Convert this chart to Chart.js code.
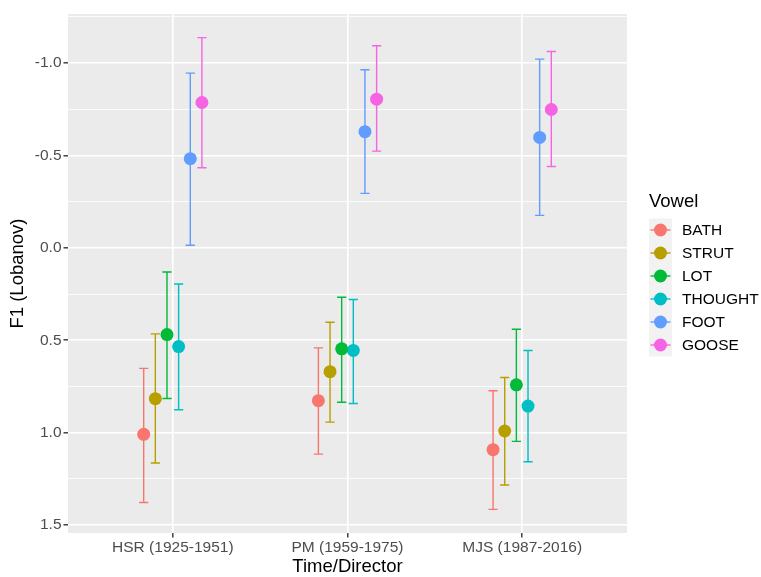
<!DOCTYPE html>
<html>
<head>
<meta charset="utf-8">
<script src="https://cdn.jsdelivr.net/npm/chart.js@4.4.1/dist/chart.umd.min.js"></script>
<style>
  html, body { margin: 0; padding: 0; background: #fff; }
  #wrap { width: 761px; height: 577px; }
</style>
</head>
<body>
<div id="wrap"><canvas id="f1Chart" width="761" height="577"></canvas></div>
<script>
const periods = ['HSR (1925-1951)', 'PM (1959-1975)', 'MJS (1987-2016)'];
const vowels = ['BATH', 'STRUT', 'LOT', 'THOUGHT', 'FOOT', 'GOOSE'];
const vowelColors = ['#F8766D', '#B79F00', '#00BA38', '#00BFC4', '#619CFF', '#F564E3'];

// mean normalised F1 per period, plus the two ends of each error bar
const bathMean = [1.009, 0.827, 1.092];
const bathLow = [0.652, 0.541, 0.773];
const bathHigh = [1.378, 1.116, 1.415];

const strutMean = [0.816, 0.670, 0.991];
const strutLow = [0.465, 0.402, 0.701];
const strutHigh = [1.164, 0.943, 1.283];

const lotMean = [0.469, 0.546, 0.741];
const lotLow = [0.130, 0.267, 0.440];
const lotHigh = [0.815, 0.835, 1.047];

const thoughtMean = [0.534, 0.555, 0.856];
const thoughtLow = [0.195, 0.279, 0.555];
const thoughtHigh = [0.876, 0.842, 1.157];

const footMean = [-0.483, -0.629, -0.598];
const footLow = [-0.946, -0.964, -1.022];
const footHigh = [-0.014, -0.295, -0.176];

const gooseMean = [-0.787, -0.805, -0.749];
const gooseLow = [-1.138, -1.094, -1.063];
const gooseHigh = [-0.434, -0.524, -0.441];

const yMajorTicks = [-1.0, -0.5, 0.0, 0.5, 1.0, 1.5];
const yMinorTicks = [-1.25, -0.75, -0.25, 0.25, 0.75, 1.25];

const means = [bathMean, strutMean, lotMean, thoughtMean, footMean, gooseMean];
const lows = [bathLow, strutLow, lotLow, thoughtLow, footLow, gooseLow];
const highs = [bathHigh, strutHigh, lotHigh, thoughtHigh, footHigh, gooseHigh];

const dodge = 0.4;
const fontFamily = "'Liberation Sans', Arial, Helvetica, sans-serif";
Chart.defaults.font.family = fontFamily;

const datasets = vowels.map((v, j) => ({
  label: v,
  data: means[j].map((m, i) => ({ x: i + 1 + (j - 2.5) * dodge / vowels.length, y: m })),
  low: lows[j],
  high: highs[j],
  backgroundColor: vowelColors[j],
  borderWidth: 0,
  pointRadius: 6.5,
  pointHoverRadius: 6.5
}));

// grey panel behind the grid
const panel = {
  id: 'panel',
  beforeDraw(chart) {
    const { ctx, chartArea: a } = chart;
    ctx.save();
    ctx.fillStyle = '#EBEBEB';
    ctx.fillRect(a.left, a.top, a.right - a.left, a.bottom - a.top);
    ctx.restore();
  }
};

// vertical error bars with caps, drawn under the points
const errorBars = {
  id: 'errorBars',
  beforeDatasetsDraw(chart) {
    const { ctx, scales: { x, y } } = chart;
    const cap = 4.6;
    ctx.save();
    ctx.lineWidth = 1.4;
    chart.data.datasets.forEach(ds => {
      ctx.strokeStyle = ds.backgroundColor;
      ds.data.forEach((p, i) => {
        const px = x.getPixelForValue(p.x);
        const y1 = y.getPixelForValue(ds.low[i]);
        const y2 = y.getPixelForValue(ds.high[i]);
        ctx.beginPath();
        ctx.moveTo(px, y1); ctx.lineTo(px, y2);
        ctx.moveTo(px - cap, y1); ctx.lineTo(px + cap, y1);
        ctx.moveTo(px - cap, y2); ctx.lineTo(px + cap, y2);
        ctx.stroke();
      });
    });
    ctx.restore();
  }
};

// legend on the right: title, grey key strip, point + line per vowel
const vowelKey = {
  id: 'vowelKey',
  afterDraw(chart) {
    const { ctx } = chart;
    const left = 649, keyW = 23, keyH = 23, top = 218.5;
    const sets = chart.data.datasets;
    ctx.save();
    ctx.fillStyle = '#000';
    ctx.font = `18.5px ${fontFamily}`;
    ctx.textBaseline = 'middle';
    ctx.textAlign = 'left';
    ctx.fillText('Vowel', left, 201.5);

    ctx.fillStyle = '#F2F2F2';
    ctx.fillRect(left, top, keyW, keyH * sets.length);

    ctx.font = `15.5px ${fontFamily}`;
    sets.forEach((ds, j) => {
      const cy = top + keyH * j + keyH / 2;
      const cx = left + keyW / 2;
      ctx.strokeStyle = ds.backgroundColor;
      ctx.lineWidth = 1.4;
      ctx.beginPath();
      ctx.moveTo(left + 1.5, cy);
      ctx.lineTo(left + keyW - 1.5, cy);
      ctx.stroke();
      ctx.fillStyle = ds.backgroundColor;
      ctx.beginPath();
      ctx.arc(cx, cy, 6.5, 0, Math.PI * 2);
      ctx.fill();
      ctx.fillStyle = '#000';
      ctx.fillText(ds.label, 682, cy + 0.5);
    });
    ctx.restore();
  }
};

const isMajor = v => yMajorTicks.some(t => Math.abs(t - v) < 1e-9);

new Chart(document.getElementById('f1Chart'), {
  type: 'scatter',
  data: { datasets },
  options: {
    responsive: false,
    animation: false,
    events: [],
    layout: { padding: { top: 14, right: 134, bottom: 0, left: 0 } },
    plugins: {
      legend: { display: false },
      tooltip: { enabled: false }
    },
    scales: {
      x: {
        type: 'linear',
        min: 0.4,
        max: 3.6,
        afterBuildTicks: s => { s.ticks = periods.map((_, i) => ({ value: i + 1 })); },
        afterFit: s => { s.height = 44; },
        ticks: {
          callback: (v, i) => periods[i],
          autoSkip: false,
          maxRotation: 0,
          color: '#4D4D4D',
          font: { size: 15.5 },
          padding: 1
        },
        grid: { color: '#FFFFFF', lineWidth: 1.6, tickLength: 4.5, tickColor: '#333333', tickWidth: 1.4 },
        border: { display: false },
        title: {
          display: true,
          text: 'Time/Director',
          color: '#000',
          font: { size: 18.5, lineHeight: 1.1 },
          padding: { top: 0, bottom: 0 }
        }
      },
      y: {
        type: 'linear',
        reverse: true,
        min: -1.266,
        max: 1.543,
        afterBuildTicks: s => {
          s.ticks = [...yMinorTicks, ...yMajorTicks].sort((a, b) => a - b).map(v => ({ value: v }));
        },
        afterFit: s => { s.width = 68; },
        ticks: {
          callback: v => isMajor(v) ? v.toFixed(1) : '',
          autoSkip: false,
          color: '#4D4D4D',
          font: { size: 15.5 },
          padding: 2
        },
        grid: {
          color: '#FFFFFF',
          lineWidth: c => isMajor(c.tick.value) ? 1.6 : 0.8,
          tickLength: 4.5,
          tickColor: c => isMajor(c.tick.value) ? '#333333' : 'rgba(0,0,0,0)',
          tickWidth: 1.4
        },
        border: { display: false },
        title: {
          display: true,
          text: 'F1 (Lobanov)',
          color: '#000',
          font: { size: 18.5, lineHeight: 1.1 },
          padding: { top: 8, bottom: 0 }
        }
      }
    }
  },
  plugins: [panel, errorBars, vowelKey]
});
</script>
</body>
</html>
